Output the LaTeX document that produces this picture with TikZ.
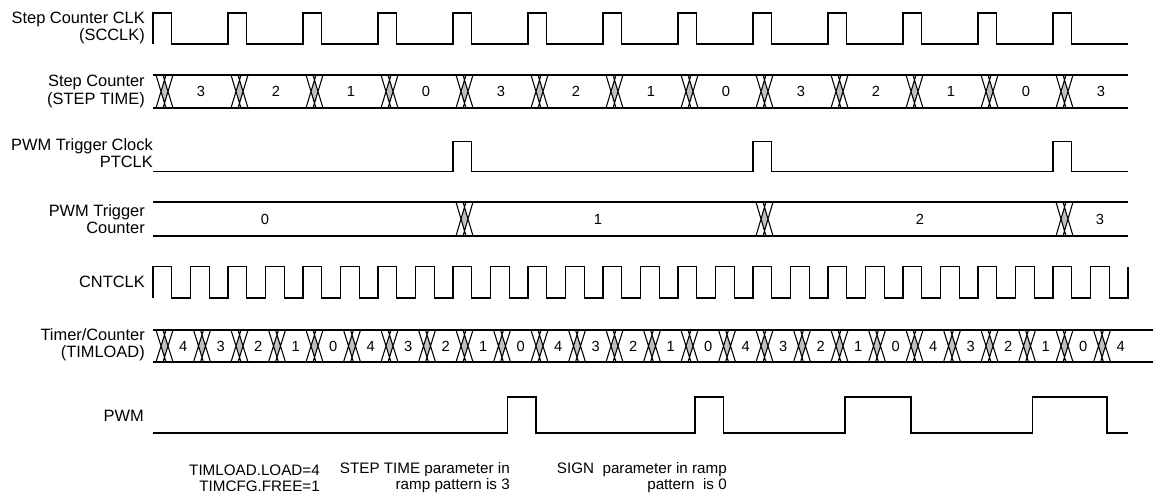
\documentclass[tikz,border=0pt]{standalone}
\usepackage{fontspec}
\setmainfont{Liberation Sans}

% bus change at x=#1, between top #2 and bottom #3
\newcommand{\buscross}[3]{%
  \fill[xfill] ({#1+5},{(#2+#3)/2}) -- ({#1+8.5},{#2+0.15*(#3-#2)}) -- ({#1+12},{(#2+#3)/2}) -- ({#1+8.5},{#3-0.15*(#3-#2)}) -- cycle;
  \draw[wave] (#1,#2) -- ({#1+10},#3) (#1,#3) -- ({#1+10},#2)
    ({#1+7},#2) -- ({#1+17},#3) ({#1+7},#3) -- ({#1+17},#2);}

\begin{document}
\begin{tikzpicture}[x=0.75pt,y=-0.75pt,
  wave/.style={line width=0.8pt,line join=miter},
  xfill/.style={fill=black!25},
  sig/.style={anchor=east,align=right,inner sep=0pt,font=\fontsize{12.3}{13}\selectfont},
  val/.style={inner sep=0pt,font=\fontsize{11}{12}\selectfont},
  note/.style={anchor=east,align=right,inner sep=0pt,font=\fontsize{11.4}{12}\selectfont}]
  \useasboundingbox (0,0) rectangle (1153,494);

  % Step counter clock
  \node[sig] (scclk) at (145,28) {Step Counter CLK\\(SCCLK)};
  \draw[wave] (153,44) foreach \k in {0,...,12} { -- ({153+75*\k},44) -- ++(0,-31) -- ++(18.5,0) -- ++(0,31) } -- (1128,44);

  % Step counter value
  \node[sig] (steptime) at (145,91.5) {Step Counter\\(STEP TIME)};
  \draw[wave] (153,75) -- (1128,75) (153,108) -- (1128,108);
  \foreach \v [count=\k from 0] in {3,2,1,0,3,2,1,0,3,2,1,0,3} {
    \pgfmathsetmacro{\x}{156+75*\k}
    \buscross{\x}{75}{108}
    \node[val] (st\k) at (\x+45,91.5) {\v};
  }

  % PWM trigger clock
  \node[sig] (ptclk) at (153,153) {PWM Trigger Clock\\PTCLK};
  \draw[wave] (153,171.5) foreach \k in {8,16,24} { -- ({153+37.5*\k},171.5) -- ++(0,-30) -- ++(18.75,0) -- ++(0,30) } -- (1128,171.5);

  % PWM trigger counter
  \node[sig] (ptcnt) at (145,219) {PWM Trigger\\Counter};
  \draw[wave] (153,202) -- (1128,202) (153,236) -- (1128,236);
  \foreach \k in {8,16,24} {
    \pgfmathsetmacro{\x}{156+37.5*\k}
    \buscross{\x}{202}{236}
  }
  \node[val] (pc0) at (265,219) {0};
  \node[val] (pc1) at (598,219) {1};
  \node[val] (pc2) at (920,219) {2};
  \node[val] (pc3) at (1100,219) {3};

  % Counter clock
  \node[sig] (cntclk) at (145,282) {CNTCLK};
  \draw[wave] (153,298) foreach \k in {0,...,25} { -- ({153+37.5*\k},298) -- ++(0,-31.5) -- ++(18.75,0) -- ++(0,31.5) } -- (1128,298) -- (1128,266.5);

  % Timer/counter value
  \node[sig] (timload) at (145,345) {Timer/Counter\\(TIMLOAD)};
  \draw[wave] (153,330) -- (1153,330) (153,362) -- (1153,362);
  \foreach \k in {0,...,25} {
    \pgfmathsetmacro{\x}{156+37.5*\k}
    \pgfmathtruncatemacro{\v}{4-mod(\k,5)}
    \buscross{\x}{330}{362}
    \node[val] (tl\k) at (\x+27.25,346) {\v};
  }

  % PWM output
  \node[sig] (pwm) at (144,416) {PWM};
  \draw[wave] (153,433) foreach \a/\b in {507.5/536,695/723.5,845/911,1032.5/1107} { -- (\a,433) -- (\a,397) -- (\b,397) -- (\b,433) } -- (1128,433);

  % Notes
  \node[note] (load) at (320,478) {TIMLOAD.LOAD=4\\TIMCFG.FREE=1};
  \node[note] (steppar) at (510,478) {STEP TIME parameter in\\ramp pattern is 3};
  \node[note] (signpar) at (727,478) {SIGN\ \ parameter in ramp\\pattern\ \ is 0};
\end{tikzpicture}
\end{document}
